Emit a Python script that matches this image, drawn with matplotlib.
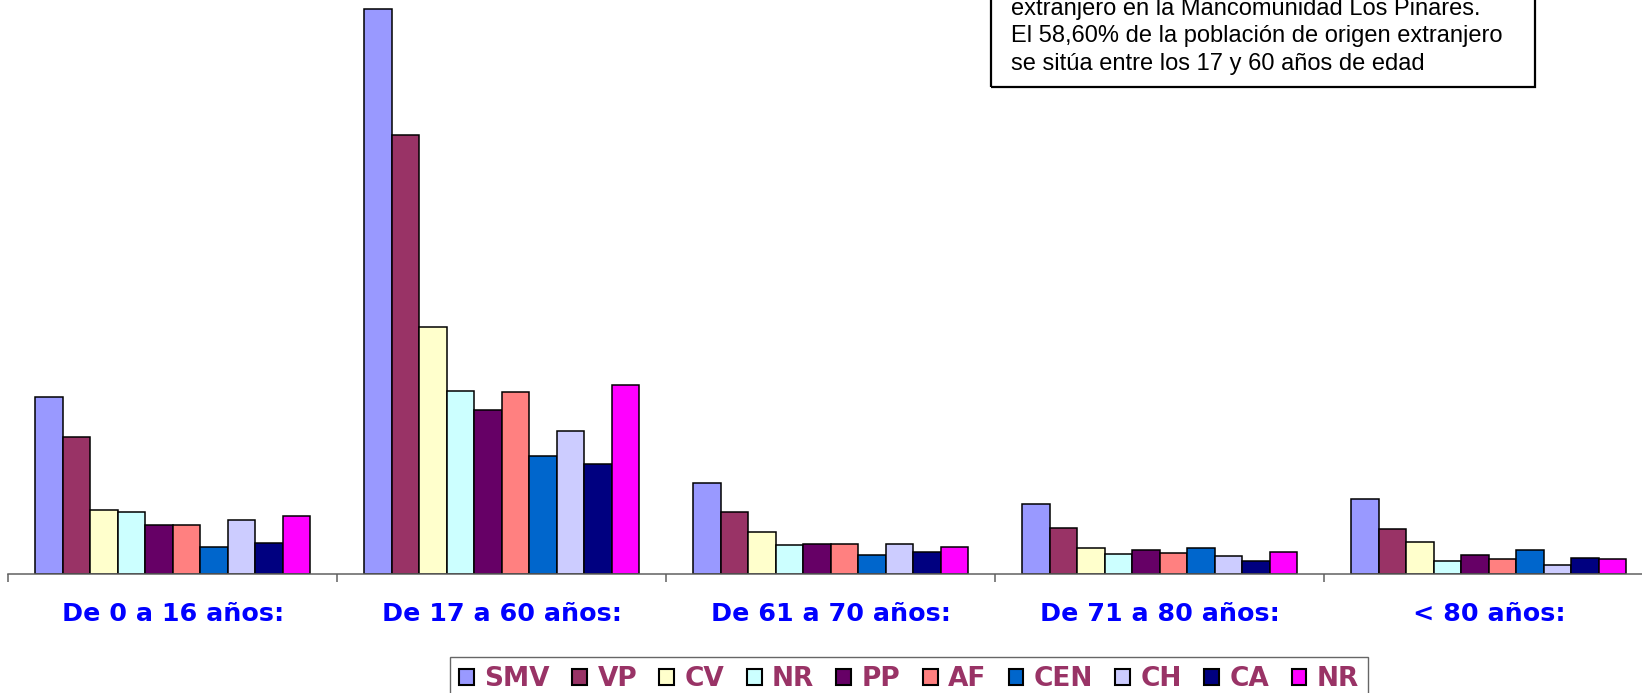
import numpy as np
import matplotlib
matplotlib.use('Agg')
import matplotlib.pyplot as plt
from matplotlib.patches import Rectangle

categories = ['De 0 a 16 años:', 'De 17 a 60 años:', 'De 61 a 70 años:',
              'De 71 a 80 años:', '< 80 años:']
series = ['SMV', 'VP', 'CV', 'NR', 'PP', 'AF', 'CEN', 'CH', 'CA', 'NR']
colors = ['#9999FF', '#993366', '#FFFFCC', '#CCFFFF', '#660066',
          '#FF8080', '#0066CC', '#CCCCFF', '#000080', '#FF00FF']

smv = [169, 539, 87, 67, 72]
vp  = [131, 419, 59, 44, 43]
cv  = [61, 236, 40, 25, 31]
nr1 = [59, 175, 28, 19, 12]
pp  = [47, 157, 29, 23, 18]
af  = [47, 174, 29, 20, 14]
cen = [26, 113, 18, 25, 23]
ch  = [52, 137, 29, 17, 9]
ca  = [30, 105, 21, 12, 15]
nr2 = [55, 180, 26, 21, 14]
values = [smv, vp, cv, nr1, pp, af, cen, ch, ca, nr2]

note_lines = ['extranjero en la Mancomunidad Los Pinares.',
              'El 58,60% de la población de origen extranjero',
              'se sitúa entre los 17 y 60 años de edad']

W, H = 1642, 693


def main():
    fig = plt.figure(figsize=(W / 100, H / 100), dpi=100)
    ax = fig.add_axes([8.4 / W, (H - 574) / H, 1645 / W, 574 / H])

    x = np.arange(len(categories))
    bw = 0.0836
    for i, (name, vals, col) in enumerate(zip(series, values, colors)):
        ax.bar(x + (i - 4.5) * bw, vals, bw, color=col, edgecolor='black',
               linewidth=1.1, label=name)

    ax.set_xlim(-0.5, len(categories) - 0.5)
    ax.set_ylim(0, 548)
    for s in ['top', 'right', 'left']:
        ax.spines[s].set_visible(False)
    ax.spines['bottom'].set_color('#606060')
    ax.spines['bottom'].set_linewidth(1.1)
    ax.set_yticks([])

    ax.set_xticks(np.arange(len(categories) + 1) - 0.5)
    ax.set_xticklabels([])
    ax.tick_params(axis='x', which='major', length=6, color='#606060', width=1.1)
    ax.set_xticks(x, minor=True)
    ax.set_xticklabels(categories, minor=True, color='#0000FF',
                       fontsize=18.3, fontweight='bold', family='DejaVu Sans')
    ax.tick_params(axis='x', which='minor', length=0, pad=20.5)

    leg = fig.legend(loc='upper left', bbox_to_anchor=(450 / W, 1 - 657 / H),
                     ncol=10, frameon=True, fancybox=False,
                     prop={'family': 'DejaVu Sans', 'weight': 'bold', 'size': 19},
                     handlelength=0.56, handleheight=0.56, handletextpad=0.4,
                     columnspacing=0.84, borderpad=0.35, borderaxespad=0)
    leg.get_frame().set_edgecolor('#404040')
    leg.get_frame().set_linewidth(1.0)
    for t in leg.get_texts():
        t.set_color('#993366')
    for h in leg.legend_handles:
        h.set_linewidth(1.5)

    # text box, cut off at the top of the picture
    fig.add_artist(Rectangle((991 / W, 1 - 87 / H), (1535 - 991) / W, 0.3,
                             transform=fig.transFigure, fill=False,
                             edgecolor='black', linewidth=1.6, clip_on=False))
    for k, line in enumerate(note_lines):
        fig.text(1011 / W, 1 - (14.5 + 27.6 * k) / H, line, va='baseline',
                 ha='left', fontsize=17, family='Liberation Sans', color='black')

    fig.savefig('out.png', dpi=100)
    plt.close(fig)


if __name__ == '__main__':
    main()
